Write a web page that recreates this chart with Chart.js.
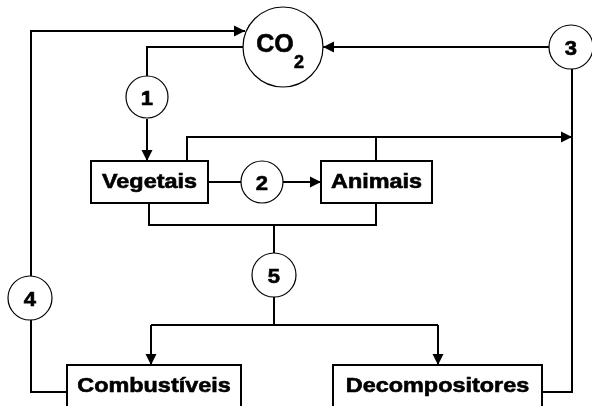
<!DOCTYPE html>
<html>
<head>
<meta charset="utf-8">
<script src="https://cdn.jsdelivr.net/npm/chart.js@4/dist/chart.umd.min.js"></script>
<style>
  html, body { margin: 0; padding: 0; background: #fff; }
</style>
</head>
<body>
<canvas id="chart" width="592" height="406"></canvas>
<script>
// Circle nodes (process numbers + CO2)
const circleLabels = ['CO', '1', '2', '3', '4', '5'];
const circleX = [283, 147, 262, 571, 30, 274];
const circleY = [47, 97, 182, 47, 298, 275];
const circleR = [40, 21, 21, 22, 22, 22];

// Box nodes
const boxLabels = ['Vegetais', 'Animais', 'Combustíveis', 'Decompositores'];
const boxLeft = [91, 321, 67, 333];
const boxRight = [208, 432, 241, 542];
const boxTop = [161, 161, 365, 365];
const boxBottom = [203, 203, 430, 430];

// Connectors: polylines in diagram units, arrow at last point
const linkPaths = [
    [[31, 276], [31, 31], [245, 31]],
    [[244, 47], [147, 47], [147, 76]],
    [[147, 119], [147, 161]],
    [[208, 182], [241, 182]],
    [[283, 182], [321, 182]],
    [[187, 161], [187, 137], [572, 137]],
    [[376, 161], [376, 137]],
    [[550, 47], [323, 47]],
    [[572, 69], [572, 392], [542, 392]],
    [[149, 203], [149, 225], [376, 225], [376, 203]],
    [[274, 225], [274, 253]],
    [[274, 297], [274, 325]],
    [[151, 325], [438, 325]],
    [[151, 325], [151, 365]],
    [[438, 325], [438, 365]],
    [[31, 320], [31, 392], [67, 392]]
];
const linkArrows = [true, false, true, false, true, true, false, true, false, false, false, false, false, true, true, false];

const FONT = '"Liberation Sans", Arial, sans-serif';

// wide, heavy label text like the bitmap font of the original
function wideText(ctx, text, cx, baseY, size, stretch) {
    ctx.save();
    ctx.translate(cx, baseY);
    ctx.scale(stretch, 1);
    ctx.font = 'bold ' + size + 'px ' + FONT;
    ctx.textAlign = 'center';
    ctx.textBaseline = 'alphabetic';
    ctx.lineWidth = 0.6;
    ctx.strokeStyle = '#000';
    ctx.fillText(text, 0, 0);
    ctx.strokeText(text, 0, 0);
    ctx.restore();
}

// Draw boxes, circles, arrowheads and labels on top of the connector lines
const diagramPlugin = {
    id: 'diagram',
    afterDatasetsDraw(chart) {
        const { ctx, scales: { x, y } } = chart;
        const px = v => x.getPixelForValue(v);
        const py = v => y.getPixelForValue(v);

        ctx.save();

        // Arrowheads
        ctx.fillStyle = '#000';
        linkPaths.forEach((path, i) => {
            if (!linkArrows[i]) return;
            const [x0, y0] = path[path.length - 2];
            const [x1, y1] = path[path.length - 1];
            const tx = px(x1), ty = py(y1);
            const ang = Math.atan2(ty - py(y0), tx - px(x0));
            const len = 11, half = 5.5;
            ctx.beginPath();
            ctx.moveTo(tx, ty);
            ctx.lineTo(tx - len * Math.cos(ang) - half * Math.sin(ang), ty - len * Math.sin(ang) + half * Math.cos(ang));
            ctx.lineTo(tx - len * Math.cos(ang) + half * Math.sin(ang), ty - len * Math.sin(ang) - half * Math.cos(ang));
            ctx.closePath();
            ctx.fill();
        });

        // Boxes
        ctx.strokeStyle = '#000';
        boxLabels.forEach((label, i) => {
            const l = px(boxLeft[i]), r = px(boxRight[i]);
            const t = py(boxTop[i]), b = py(boxBottom[i]);
            ctx.lineWidth = 2;
            ctx.fillStyle = '#fff';
            ctx.fillRect(l, t, r - l, b - t);
            ctx.strokeRect(l, t, r - l, b - t);
            ctx.fillStyle = '#000';
            wideText(ctx, label, (l + r) / 2, t + 27, 20, 1.17);
        });

        // Circles
        circleLabels.forEach((label, i) => {
            const cx = px(circleX[i]), cy = py(circleY[i]);
            const rad = px(circleR[i]) - px(0);
            ctx.beginPath();
            ctx.arc(cx, cy, rad, 0, Math.PI * 2);
            ctx.fillStyle = '#fff';
            ctx.fill();
            ctx.lineWidth = 1.2;
            ctx.strokeStyle = '#000';
            ctx.stroke();
            ctx.fillStyle = '#000';
            if (label === 'CO') {
                wideText(ctx, 'CO', cx - 8, cy + 5, 25, 1.0);
                wideText(ctx, '2', cx + 16, cy + 21, 18, 1.0);
            } else {
                wideText(ctx, label, cx, cy + 8, 21, 1.05);
            }
        });

        ctx.restore();
    }
};

const datasets = linkPaths.map(path => ({
    data: path.map(([vx, vy]) => ({ x: vx, y: vy })),
    showLine: true,
    borderColor: '#000',
    borderWidth: 2,
    pointRadius: 0,
    tension: 0,
    fill: false,
    clip: false
}));

new Chart(document.getElementById('chart'), {
    type: 'scatter',
    data: { datasets },
    options: {
        responsive: false,
        animation: false,
        layout: { padding: 0 },
        plugins: {
            legend: { display: false },
            tooltip: { enabled: false }
        },
        scales: {
            x: { type: 'linear', min: 0, max: 592, display: false },
            y: { type: 'linear', min: 0, max: 406, reverse: true, display: false }
        }
    },
    plugins: [diagramPlugin]
});
</script>
</body>
</html>
